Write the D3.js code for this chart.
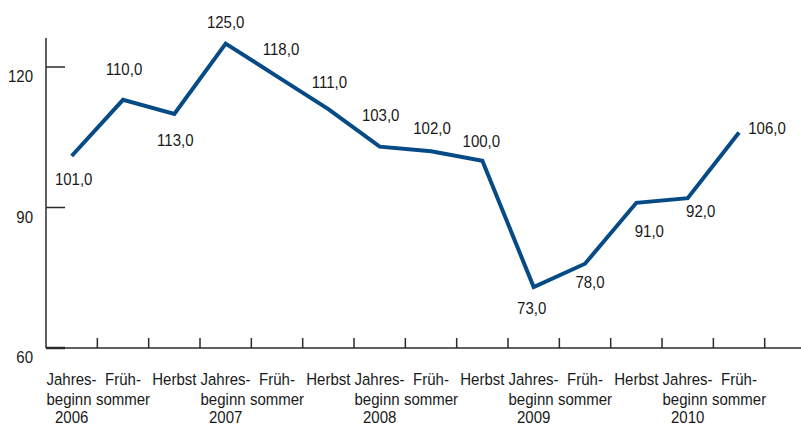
<!DOCTYPE html>
<html>
<head>
<meta charset="utf-8">
<script src="https://cdn.jsdelivr.net/npm/d3@7"></script>
<style>
  body { margin: 0; background: #fff; }
  svg { display: block; font-family: "Liberation Sans", Arial, sans-serif; }
</style>
</head>
<body>
<svg id="chart" width="801" height="426"></svg>
<script>
// data
const periods = ["Jahres-|beginn|2006", "Früh-|sommer", "Herbst",
  "Jahres-|beginn|2007", "Früh-|sommer", "Herbst",
  "Jahres-|beginn|2008", "Früh-|sommer", "Herbst",
  "Jahres-|beginn|2009", "Früh-|sommer", "Herbst",
  "Jahres-|beginn|2010", "Früh-|sommer"];
const values = [101, 113, 110, 125, 118, 111, 103, 102, 100, 73, 78, 91, 92, 106];
// printed labels (as in the original, first two are swapped vs the line)
const labels = ["101,0", "110,0", "113,0", "125,0", "118,0", "111,0", "103,0",
  "102,0", "100,0", "73,0", "78,0", "91,0", "92,0", "106,0"];
const yTicks = [60, 90, 120];

// label placement relative to the point (dx, dy to baseline)
const labelOffsets = [[2, 29], [1, -25], [1, 32], [0, -16], [4, -21], [1, -21],
  [1, -26], [1, -17], [-1, -14], [-2, 27], [5, 24], [13, 34], [13, 19], [28, 1]];

const svg = d3.select('#chart');
const g = svg.append('g');

const x0 = 46, x1 = 764.7;
const fontSize = 16.5;
const squeeze = 0.91; // the original font is a bit condensed
const xScale = d3.scaleLinear().domain([0, values.length]).range([x0, x1]);
const yScale = d3.scaleLinear().domain([60, 120]).range([348, 67]);

const axisColor = '#2b2b2b';
const textColor = '#1a1a1a';

function label(x, y, str, anchor) {
  return g.append('text')
    .attr('transform', `translate(${x},${y}) scale(${squeeze},1)`)
    .attr('text-anchor', anchor)
    .attr('font-size', fontSize)
    .attr('fill', textColor)
    .text(str);
}

// y axis
g.append('line')
  .attr('x1', x0).attr('x2', x0)
  .attr('y1', 38).attr('y2', yScale(60))
  .attr('stroke', axisColor).attr('stroke-width', 1.5);

yTicks.forEach(t => {
  g.append('line')
    .attr('x1', x0).attr('x2', x0 + 19)
    .attr('y1', yScale(t)).attr('y2', yScale(t))
    .attr('stroke', axisColor).attr('stroke-width', t === 60 ? 2.5 : 1.5);
  label(33, yScale(t) + 15, t, 'end');
});

// x axis
g.append('line')
  .attr('x1', x0).attr('x2', 801)
  .attr('y1', yScale(60)).attr('y2', yScale(60))
  .attr('stroke', axisColor).attr('stroke-width', 1.5);

d3.range(1, values.length + 1).forEach(i => {
  g.append('line')
    .attr('x1', xScale(i)).attr('x2', xScale(i))
    .attr('y1', yScale(60)).attr('y2', yScale(60) - 10)
    .attr('stroke', axisColor).attr('stroke-width', 1.5);
});

// period labels: "Jahres-/beginn" start at the band edge, the rest centred
const lineY = [385, 405, 423];
periods.forEach((p, i) => {
  const lines = p.split('|');
  lines.forEach((l, k) => {
    const leftAligned = lines.length === 3 && k < 2;
    label(leftAligned ? xScale(i) + 0.5 : xScale(i + 0.5), lineY[k], l,
      leftAligned ? 'start' : 'middle');
  });
});

// line
const line = d3.line()
  .x((d, i) => xScale(i + 0.5))
  .y(d => yScale(d));

g.append('path')
  .datum(values)
  .attr('d', line)
  .attr('fill', 'none')
  .attr('stroke', '#064b86')
  .attr('stroke-width', 4)
  .attr('stroke-linejoin', 'miter');

// value labels
values.forEach((v, i) => {
  label(xScale(i + 0.5) + labelOffsets[i][0], yScale(v) + labelOffsets[i][1],
    labels[i], 'middle');
});
</script>
</body>
</html>
